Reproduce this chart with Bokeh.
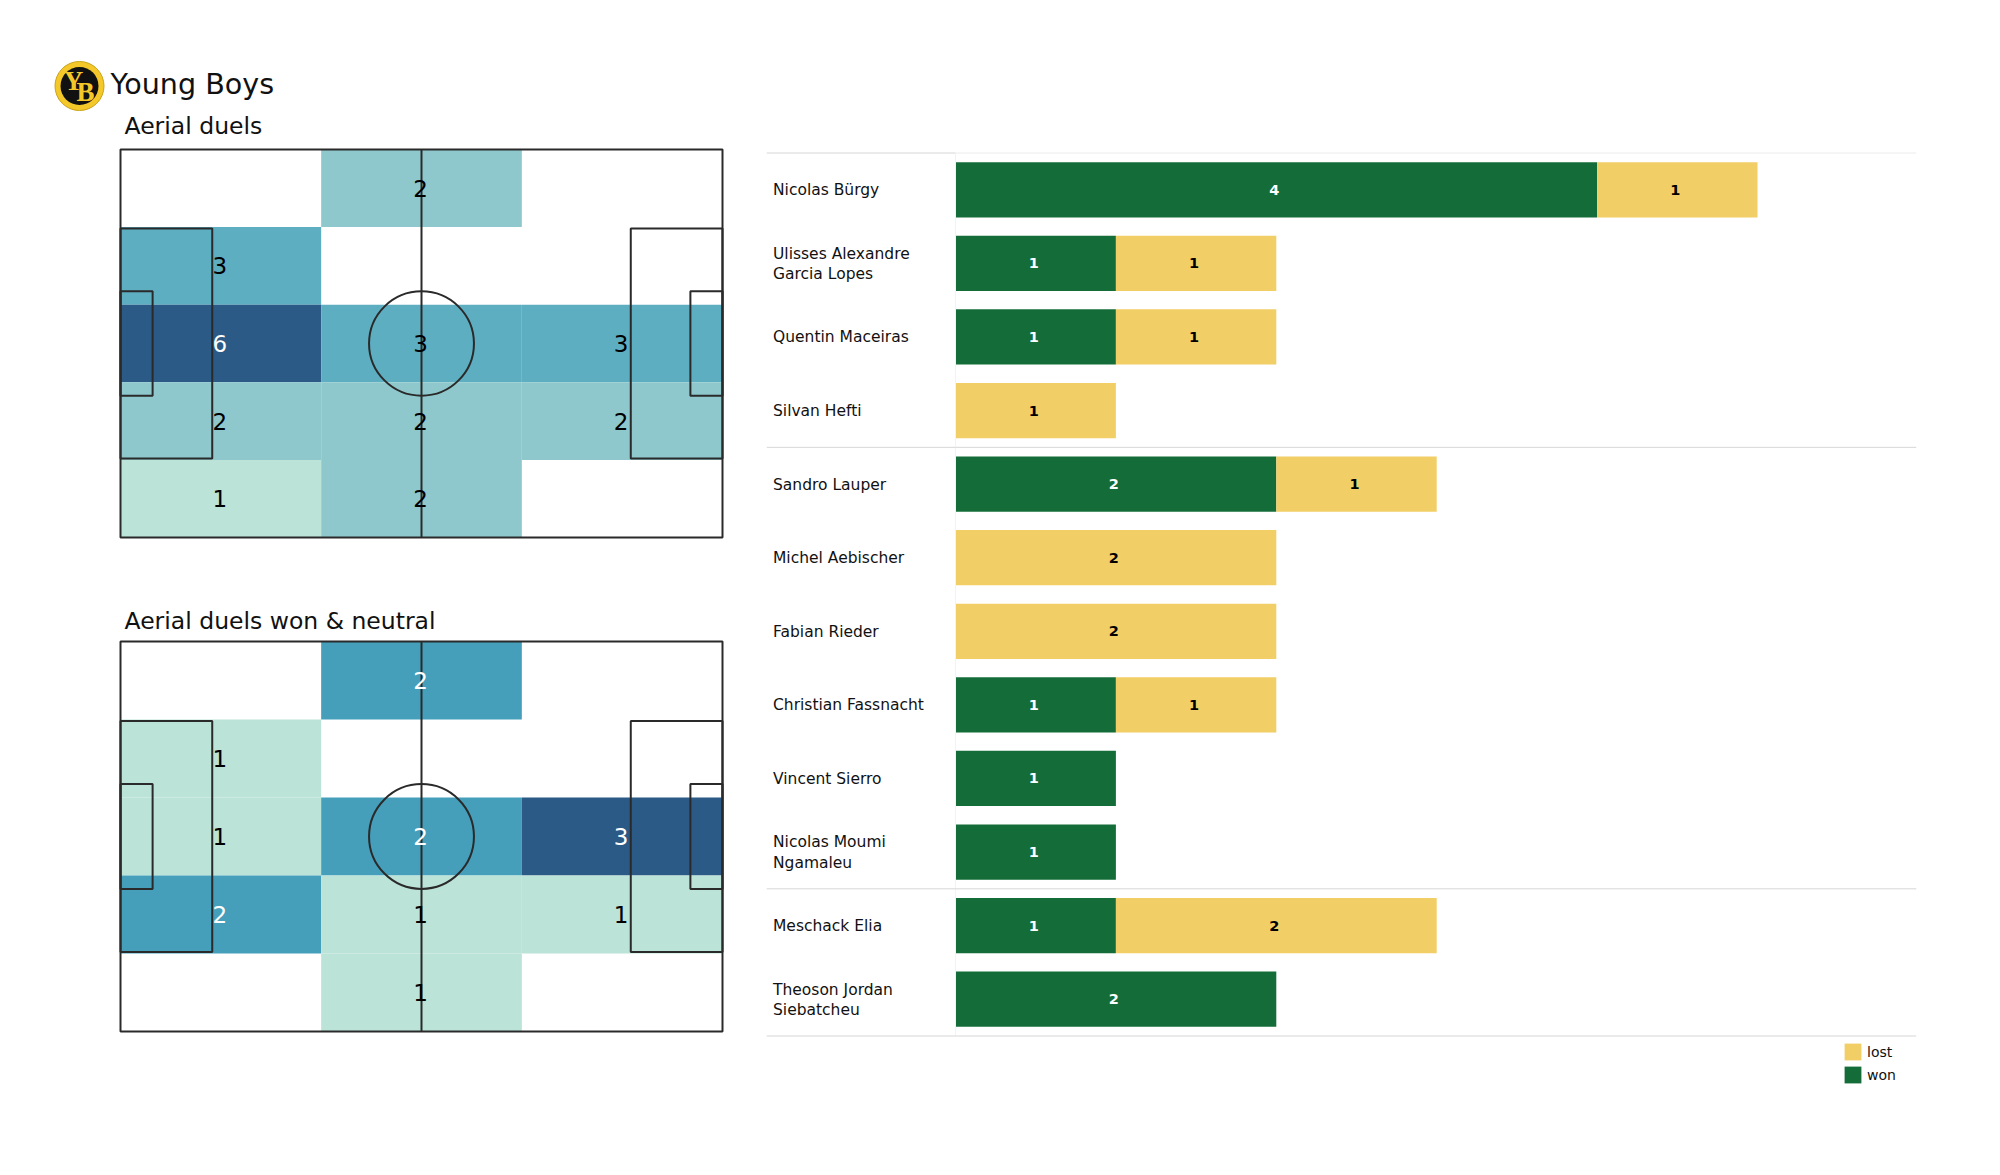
from bokeh.plotting import figure
from bokeh.layouts import row, column
from bokeh.models import Range1d, FactorRange, Legend, Span
from bokeh.core.properties import value
from bokeh.embed import file_html
from bokeh.resources import INLINE

FONT = "DejaVu Sans"

team = "Young Boys"
pitch_titles = ["Aerial duels", "Aerial duels won & neutral"]

# Zone counts, rows from top to bottom of the pitch, columns from left to right
duels_all = [[0, 2, 0], [3, 0, 0], [6, 3, 3], [2, 2, 2], [1, 2, 0]]
duels_won = [[0, 2, 0], [1, 0, 0], [1, 2, 3], [2, 1, 1], [0, 1, 0]]

all_colors = {1: "#bbe3d8", 2: "#8ec8cc", 3: "#5eaec2", 6: "#2b5a87"}
won_colors = {1: "#bbe3d8", 2: "#459fbb", 3: "#2b5a87"}
all_text = {1: "#000000", 2: "#000000", 3: "#000000", 6: "#ffffff"}
won_text = {1: "#000000", 2: "#ffffff", 3: "#ffffff"}

players = ["Nicolas Bürgy", "Ulisses Alexandre\nGarcia Lopes", "Quentin Maceiras", "Silvan Hefti",
           "Sandro Lauper", "Michel Aebischer", "Fabian Rieder", "Christian Fassnacht",
           "Vincent Sierro", "Nicolas Moumi\nNgamaleu", "Meschack Elia", "Theoson Jordan\nSiebatcheu"]
won = [4, 1, 1, 0, 2, 0, 0, 1, 1, 1, 1, 2]
lost = [1, 1, 1, 1, 1, 2, 2, 1, 0, 0, 2, 0]
group_ends = ["Silvan Hefti", "Nicolas Moumi\nNgamaleu"]

GREEN = "#146c39"
YELLOW = "#f2ce66"
LINE = "#2a2a2a"
PL, PW = 105.0, 68.0
M = 8          # layout margin
COL_W = 740    # width of the left column


def pitch(title, grid, colors, text_colors, fig_top, fig_bottom, top_px, bottom_px, title_y_px):
    """A figure whose frame fills it; the ranges place the pitch at the wanted pixels."""
    left_px, right_px = 120, 722
    sx = (right_px - left_px) / PL
    sy = (bottom_px - top_px) / PW
    p = figure(width=COL_W, height=fig_bottom - fig_top, output_backend="svg", toolbar_location=None,
               x_range=Range1d(-(left_px - M) / sx, PL + (M + COL_W - right_px) / sx),
               y_range=Range1d(-(fig_bottom - bottom_px) / sy, PW + (top_px - fig_top) / sy),
               x_axis_location=None, y_axis_location=None, min_border=0, outline_line_color=None)
    p.grid.visible = False
    nrows, ncols = len(grid), len(grid[0])
    l, r, t, b, c, xs, ys, ts, tc = [], [], [], [], [], [], [], [], []
    for i, rw in enumerate(grid):
        for j, v in enumerate(rw):
            if v == 0:
                continue
            l.append(PL * j / ncols)
            r.append(PL * (j + 1) / ncols)
            t.append(PW * (nrows - i) / nrows)
            b.append(PW * (nrows - i - 1) / nrows)
            c.append(colors[v])
            xs.append(PL * (j + 0.5) / ncols)
            ys.append(PW * (nrows - i - 0.5) / nrows)
            ts.append(str(v))
            tc.append(text_colors[v])
    p.quad(left=l, right=r, top=t, bottom=b, fill_color=c, line_color=None)

    kw = dict(fill_color=None, line_color=LINE, line_width=2)
    mid = PW / 2
    p.quad(left=[0], right=[PL], bottom=[0], top=[PW], **kw)
    p.segment(x0=[PL / 2], x1=[PL / 2], y0=[0], y1=[PW], line_color=LINE, line_width=2)
    for hw, depth in ((20.16, 16.0), (9.16, 5.6)):
        p.quad(left=[0], right=[depth], bottom=[mid - hw], top=[mid + hw], **kw)
        p.quad(left=[PL - depth], right=[PL], bottom=[mid - hw], top=[mid + hw], **kw)
    p.ellipse(x=[PL / 2], y=[mid], width=[18.3], height=[18.3], **kw)

    p.text(x=xs, y=ys, text=ts, text_color=tc, text_font=value(FONT), text_font_size="23px",
           text_align="center", text_baseline="middle", x_offset=-1)
    p.text(x=[(124 - left_px) / sx], y=[PW + (top_px - title_y_px) / sy], text=[title], text_color="#111111",
           text_font=value(FONT), text_font_size="23.5px", text_align="left", text_baseline="middle")
    return p


# Header with crest and team name
header = figure(width=COL_W, height=104, output_backend="svg", toolbar_location=None,
                x_range=Range1d(0, COL_W), y_range=Range1d(0, 104),
                x_axis_location=None, y_axis_location=None, min_border=0, outline_line_color=None)
header.grid.visible = False
header.ellipse(x=[71], y=[26.5], width=[49], height=[49], fill_color="#f5c82a", line_color="#c9a21a", line_width=1)
header.ellipse(x=[71], y=[26.5], width=[38], height=[38], fill_color="#111111", line_color=None)
header.text(x=[65], y=[32], text=["Y"], text_color="#f5c82a", text_font=value("Liberation Serif"),
            text_font_style="bold", text_font_size="27px", text_align="center", text_baseline="middle")
header.text(x=[77], y=[21], text=["B"], text_color="#f5c82a", text_font=value("Liberation Serif"),
            text_font_style="bold", text_font_size="27px", text_align="center", text_baseline="middle")
header.text(x=[102], y=[29], text=[team], text_color="#111111", text_font=value(FONT),
            text_font_size="28.6px", text_align="left", text_baseline="middle")

p1 = pitch(pitch_titles[0], duels_all, all_colors, all_text, 112, 560, 149, 537, 125)
p2 = pitch(pitch_titles[1], duels_won, won_colors, won_text, 560, 1050, 641, 1031, 620)

# Stacked bars: the frame runs past the rows so that the legend can sit under them
UNIT = 160.4
left_lim = -(955 - 766) / UNIT
right_lim = (1916 - 955) / UNIT
ROW_H = 883 / len(players)
PAD_PX = 64.5
bars = figure(width=1172, height=1092, output_backend="svg", toolbar_location=None,
              x_range=Range1d(left_lim, right_lim),
              y_range=FactorRange(factors=players[::-1], factor_padding=0,
                                  range_padding=PAD_PX / ROW_H, range_padding_units="absolute"),
              x_axis_location=None, y_axis_location=None,
              min_border_left=18, min_border_right=4, min_border_top=80, min_border_bottom=0,
              outline_line_color=None)
bars.grid.visible = False

ends = [w + l for w, l in zip(won, lost)]
r_won = bars.hbar(y=players, left=[0] * len(players), right=won, height=0.75, fill_color=GREEN, line_color=None)
r_lost = bars.hbar(y=players, left=won, right=ends, height=0.75, fill_color=YELLOW, line_color=None)

# Row lines
bars.segment(x0=[0], x1=[0], y0=[(players[0], 0.5)], y1=[(players[-1], -0.5)], line_color="#f3f3f3", line_width=1)
line_rows = [(players[0], 0.5, "#ececec", "#d6d6d6")] + \
            [(g, -0.5, "#d6d6d6", "#d6d6d6") for g in group_ends] + \
            [(players[-1], -0.5, "#d6d6d6", "#d6d6d6")]
for name, off, right_col, left_col in line_rows:
    bars.segment(x0=[left_lim], x1=[0], y0=[(name, off)], y1=[(name, off)], line_color=left_col, line_width=1)
    bars.segment(x0=[0], x1=[right_lim], y0=[(name, off)], y1=[(name, off)], line_color=right_col, line_width=1)

name_x = left_lim + 6.5 / UNIT
bars.text(x=[name_x] * len(players), y=players, text=players, text_font=value(FONT), text_font_size="15.5px",
          text_color="#111111", text_align="left", text_baseline="middle", text_line_height=1.12, y_offset=0.5)

wx, wy, wt = [], [], []
lx, ly, lt = [], [], []
for n, w, l in zip(players, won, lost):
    if w:
        wx.append(w / 2); wy.append(n); wt.append(str(w))
    if l:
        lx.append(w + l / 2); ly.append(n); lt.append(str(l))
bars.text(x=wx, y=wy, text=wt, text_color="#ffffff", text_font=value(FONT), text_font_style="bold",
          text_font_size="14.5px", text_align="center", text_baseline="middle", x_offset=-2)
bars.text(x=lx, y=ly, text=lt, text_color="#000000", text_font=value(FONT), text_font_style="bold",
          text_font_size="14.5px", text_align="center", text_baseline="middle", x_offset=-2)

legend = Legend(items=[("lost", [r_lost]), ("won", [r_won])], location=(1076, 15), orientation="vertical",
                label_text_font=FONT, label_text_font_size="14px", label_text_color="#111111",
                glyph_width=21, glyph_height=21, label_height=21, spacing=2, padding=0, margin=0,
                label_standoff=4, border_line_color=None, background_fill_alpha=0)
bars.add_layout(legend)

page = row(column(header, p1, p2), bars, margin=(8, 0, 0, 8))
open("out.html", "w").write(file_html(page, INLINE))
